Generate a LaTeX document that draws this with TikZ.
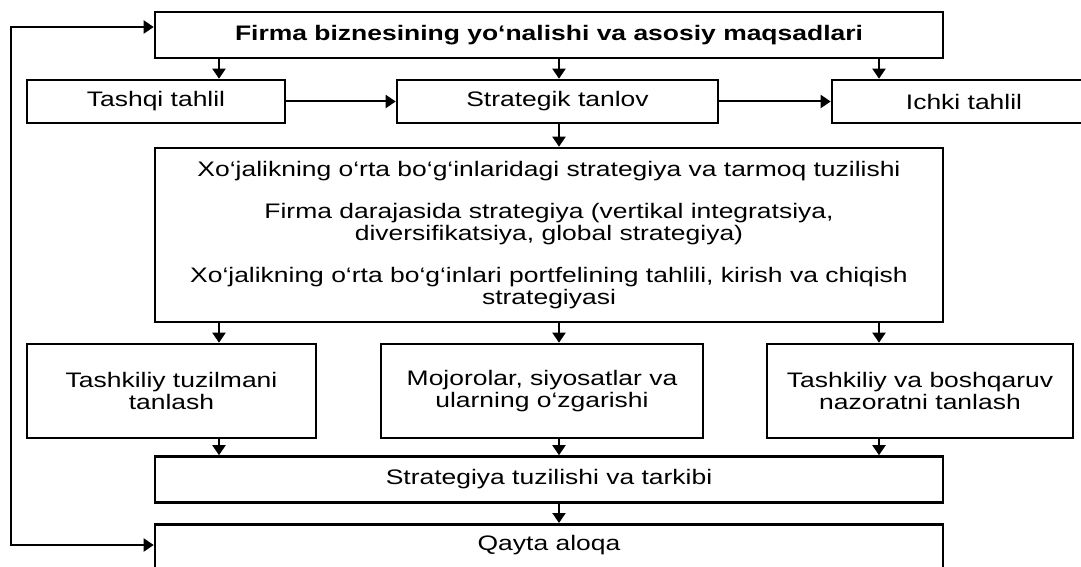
\documentclass[tikz,border=0pt]{standalone}
\usepackage{fontspec}
\setmainfont{Liberation Sans}[FakeStretch=1.26]
\usetikzlibrary{arrows.meta,positioning}

\tikzset{
  box/.style={draw, line width=1.3pt, inner sep=2pt, align=center,
    font=\fontsize{10.5}{11}\selectfont},
  arr/.style={line width=1pt, -{Triangle[length=5pt,width=6.5pt]}},
}

\begin{document}
\begin{tikzpicture}[x=0.5pt,y=-0.5pt]
\useasboundingbox (0,0) rectangle (1081,567);
% Top goal
  \node[box, minimum width=394pt, minimum height=23pt, font=\fontsize{10.5}{11}\selectfont\bfseries] (goal) at (549,35)
    {Firma biznesining yo‘nalishi va asosiy maqsadlari};
% Analysis row
  \node[box, minimum width=129pt, minimum height=21.5pt] (tashqi) at (156,101.5) {Tashqi tahlil};
  \node[box, minimum width=160.5pt, minimum height=21.5pt] (tanlov) at (557.5,101.5) {Strategik tanlov};
  \node[box, minimum width=132pt, minimum height=21.5pt] (ichki) at (964,101.5) {Ichki tahlil};
% Middle level strategy
  \node[box, minimum width=394pt, minimum height=87pt] (xojalik) at (549,235)
    {Xo‘jalikning o‘rta bo‘g‘inlaridagi strategiya va tarmoq tuzilishi\\[10pt]
     Firma darajasida strategiya (vertikal integratsiya,\\
     diversifikatsiya, global strategiya)\\[10pt]
     Xo‘jalikning o‘rta bo‘g‘inlari portfelining tahlili, kirish va chiqish\\
     strategiyasi};
% Choices row
  \node[box, minimum width=144.5pt, minimum height=47pt] (tuzilma) at (171.5,391) {Tashkiliy tuzilmani\\tanlash};
  \node[box, minimum width=161pt, minimum height=47pt] (mojoro) at (542,391) {Mojorolar, siyosatlar va\\ularning o‘zgarishi};
  \node[box, minimum width=153pt, minimum height=47pt] (nazorat) at (920,391) {Tashkiliy va boshqaruv\\nazoratni tanlash};
% Result and feedback
  \node[box, minimum width=394pt, minimum height=23pt] (tarkib) at (549,479.5) {Strategiya tuzilishi va tarkibi};
  \node[box, minimum width=394pt, minimum height=22pt, anchor=north] (aloqa) at (549,523) {};
  \node[font=\fontsize{10.5}{11}\selectfont] (aloqatxt) at (549,545) {Qayta aloqa};
% Arrow columns
  \coordinate (c1) at (219,0);
  \coordinate (c2) at (559,0);
  \coordinate (c3) at (879,0);
  \coordinate (fb) at (11,0);
%
  \draw[arr] (goal.south -| c1) -- (tashqi.north -| c1);
  \draw[arr] (goal.south -| c2) -- (tanlov.north -| c2);
  \draw[arr] (goal.south -| c3) -- (ichki.north -| c3);
  \draw[arr] (tashqi) -- (tanlov);
  \draw[arr] (tanlov) -- (ichki);
  \draw[arr] (tanlov.south -| c2) -- (xojalik.north -| c2);
%
  \draw[arr] (xojalik.south -| c1) -- (tuzilma.north -| c1);
  \draw[arr] (xojalik.south -| c2) -- (mojoro.north -| c2);
  \draw[arr] (xojalik.south -| c3) -- (nazorat.north -| c3);
  \draw[arr] (tuzilma.south -| c1) -- (tarkib.north -| c1);
  \draw[arr] (mojoro.south -| c2) -- (tarkib.north -| c2);
  \draw[arr] (nazorat.south -| c3) -- (tarkib.north -| c3);
  \draw[arr] (tarkib.south -| c2) -- (aloqa.north -| c2);
% Feedback loop
  \draw[line width=1pt, {Triangle[length=5pt,width=6.5pt]}-{Triangle[length=5pt,width=6.5pt]}]
    (goal.west |- 0,27) -- (fb |- 0,27) -- (fb |- aloqatxt) -- (aloqa.west |- aloqatxt);
\end{tikzpicture}
\end{document}
